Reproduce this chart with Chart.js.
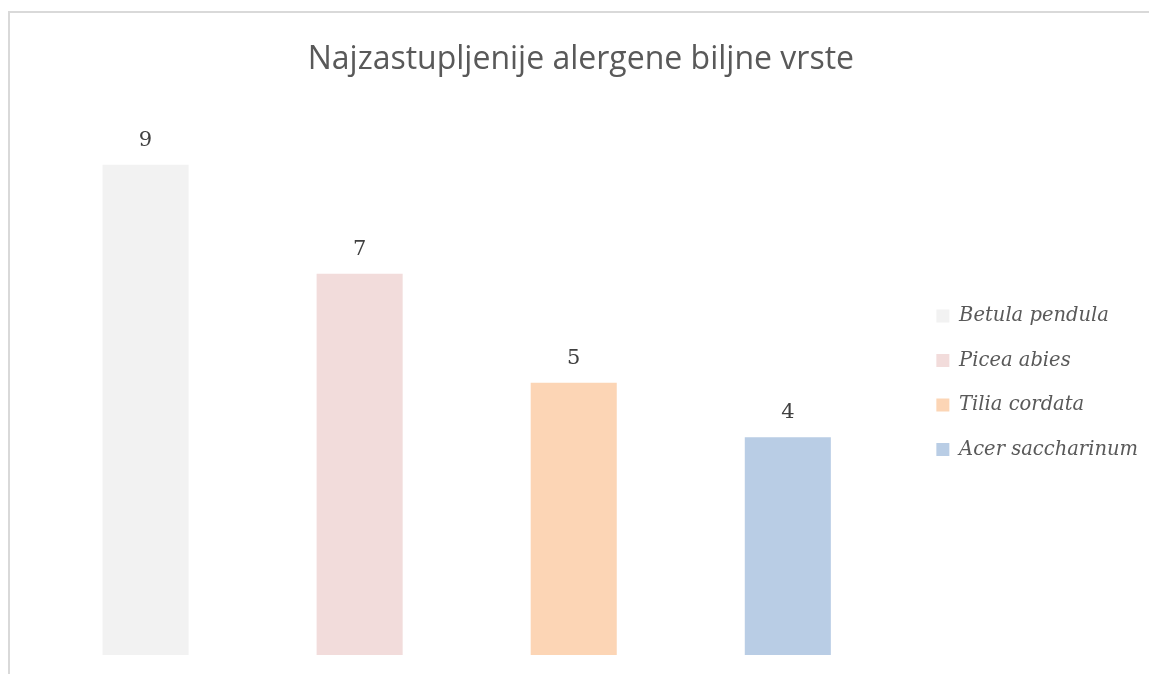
<!DOCTYPE html>
<html>
<head>
<meta charset="utf-8">
<script src="https://cdn.jsdelivr.net/npm/chart.js@4/dist/chart.umd.min.js"></script>
<style>
  html, body { margin: 0; padding: 0; background: #fff; overflow: hidden; }
  #wrap { position: relative; width: 1149px; height: 674px; }
  #frame { position: absolute; left: 8px; top: 11px; width: 1200px; height: 700px;
           border-left: 2px solid #d9d9d9; border-top: 2px solid #d9d9d9; pointer-events: none; }
</style>
</head>
<body>
<div id="wrap">
  <canvas id="chart" width="1149" height="674"></canvas>
  <div id="frame"></div>
</div>
<script>
// data
const chartTitle = 'Najzastupljenije alergene biljne vrste';
const species = ['Betula pendula', 'Picea abies', 'Tilia cordata', 'Acer saccharinum'];
const counts = [9, 7, 5, 4];
const colors = ['#f2f2f2', '#f2dcdb', '#fcd5b5', '#b9cde5'];

const legendFont = { family: '"DejaVu Serif", serif', size: 19.5, style: 'italic' };
const legendPad = 25;
const legendBox = 13;

// value labels above every bar
const valueLabels = {
    id: 'valueLabels',
    afterDatasetsDraw(chart) {
        const ctx = chart.ctx;
        ctx.save();
        ctx.font = '21px "DejaVu Serif", serif';
        ctx.fillStyle = '#404040';
        ctx.textAlign = 'center';
        ctx.textBaseline = 'alphabetic';
        chart.data.datasets.forEach((ds, i) => {
            const meta = chart.getDatasetMeta(i);
            meta.data.forEach((bar, j) => {
                ctx.fillText(String(ds.data[j]), bar.x, bar.y - 19);
            });
        });
        ctx.restore();
    }
};

const ctx = document.getElementById('chart').getContext('2d');

// legend should start at x=911, work out how wide it will be
ctx.font = 'italic 19.5px "DejaVu Serif", serif';
const widest = Math.max(...species.map(s => ctx.measureText(s).width));
const legendWidth = legendPad + legendBox + legendFont.size / 2 + widest + 10;
const padRight = Math.round(1149 - 911 - legendWidth);

new Chart(ctx, {
    type: 'bar',
    data: {
        labels: [''],
        datasets: species.map((name, i) => ({
            label: name,
            data: [counts[i]],
            backgroundColor: colors[i],
            borderWidth: 0
        }))
    },
    options: {
        responsive: false,
        animation: false,
        devicePixelRatio: 1,
        categoryPercentage: 0.9629,
        barPercentage: 0.402,
        layout: { padding: { left: 22, right: padRight, top: 0, bottom: 19 } },
        scales: {
            x: { display: false },
            y: { display: false, min: 0, max: 10 }
        },
        plugins: {
            title: {
                display: true,
                // trailing space nudges the centred title a little to the left
                text: chartTitle + '\u00a0',
                color: '#595959',
                font: { family: '"Open Sans", sans-serif', size: 32, weight: 'normal' },
                padding: { top: 41, bottom: 31 }
            },
            legend: {
                position: 'right',
                fullSize: false,
                labels: {
                    boxWidth: legendBox,
                    boxHeight: legendBox,
                    padding: legendPad,
                    color: '#595959',
                    font: legendFont
                }
            },
            tooltip: { enabled: false }
        }
    },
    plugins: [valueLabels]
});
</script>
</body>
</html>
